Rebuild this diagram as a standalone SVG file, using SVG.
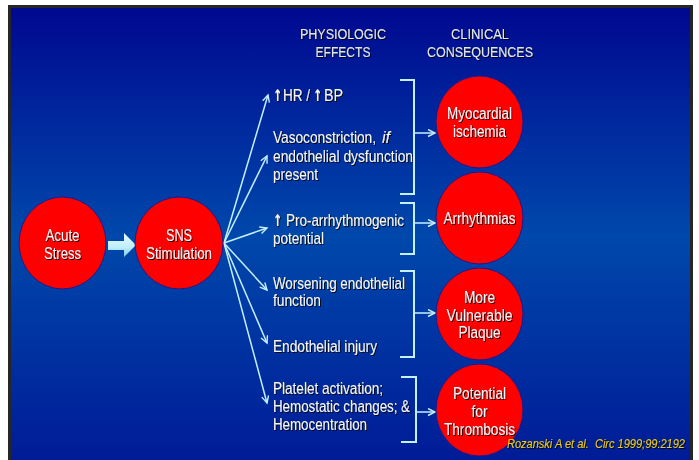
<svg xmlns="http://www.w3.org/2000/svg" width="699" height="460" viewBox="0 0 699 460">
  <defs>
    <linearGradient id="bg" x1="0" y1="0" x2="0" y2="1">
      <stop offset="0" stop-color="#000890"/>
      <stop offset="0.5" stop-color="#0048ab"/>
      <stop offset="1" stop-color="#001a96"/>
    </linearGradient>
    <linearGradient id="fat" x1="0" y1="0" x2="0" y2="1">
      <stop offset="0" stop-color="#e8fbff"/>
      <stop offset="0.6" stop-color="#bfeefc"/>
      <stop offset="1" stop-color="#7fc4dc"/>
    </linearGradient>
    <filter id="shadow" x="-10%" y="-20%" width="130%" height="150%">
      <feDropShadow dx="1" dy="1" stdDeviation="0.4" flood-color="#000" flood-opacity="0.85"/>
    </filter>
    <marker id="head" markerWidth="10" markerHeight="10" refX="8" refY="4" orient="auto" markerUnits="userSpaceOnUse">
      <path d="M1,0.5 L8,4 L1,7.5" fill="none" stroke="#c4f0ff" stroke-width="1.4"/>
    </marker>
  </defs>
  <style>
    .node ellipse { fill: #ff0000; stroke: #1b1b8c; stroke-width: 1; }
    .lbl { font-family: "Liberation Sans", Arial, sans-serif; font-size: 16px; fill: #f6f6f6; filter: url(#shadow); }
    .mid { text-anchor: middle; }
    .head { font-size: 15px; fill: #e2e8ee; }
    .up { font-family: "DejaVu Sans", sans-serif; font-weight: bold; }
    .it { font-style: italic; }
    .fan line { stroke: #c4f0ff; stroke-width: 1.5; marker-end: url(#head); }
    .brk polyline { fill: none; stroke: #c4f0ff; stroke-width: 2; }
    .brk line { stroke: #c4f0ff; stroke-width: 1.5; marker-end: url(#head); }
    .cite { font-family: "Liberation Sans", Arial, sans-serif; font-style: italic; font-size: 13px; fill: #f0cc10; filter: url(#shadow); white-space: pre; }
  </style>

  <!-- page and panel -->
  <rect width="699" height="460" fill="#ffffff"/>
  <rect x="9.5" y="6.5" width="682" height="460" fill="url(#bg)" stroke="#262626" stroke-width="3"/>

  <!-- column headings -->
  <g id="headings">
    <text class="lbl head mid" x="343" y="39" textLength="86" lengthAdjust="spacingAndGlyphs">PHYSIOLOGIC</text>
    <text class="lbl head mid" x="343" y="57" textLength="55" lengthAdjust="spacingAndGlyphs">EFFECTS</text>
    <text class="lbl head mid" x="480" y="39" textLength="58" lengthAdjust="spacingAndGlyphs">CLINICAL</text>
    <text class="lbl head mid" x="480" y="57" textLength="106" lengthAdjust="spacingAndGlyphs">CONSEQUENCES</text>
  </g>

  <!-- connectors -->
  <g id="connectors">
    <path id="fat-arrow" d="M108,241 L124,241 L124,233 L136,245 L124,257 L124,250 L108,250 Z" fill="url(#fat)"/>
    <g class="fan">
      <line x1="224" y1="243" x2="268" y2="95"/>
      <line x1="224" y1="243" x2="267" y2="156"/>
      <line x1="224" y1="243" x2="267" y2="228"/>
      <line x1="224" y1="243" x2="267" y2="290"/>
      <line x1="224" y1="243" x2="267" y2="343"/>
      <line x1="224" y1="243" x2="267" y2="403"/>
    </g>
    <g class="brk">
      <polyline points="400,80 414,80 414,194 400,194"/>
      <line x1="414" y1="133" x2="435" y2="133"/>
      <polyline points="400,203 414,203 414,254 400,254"/>
      <line x1="414" y1="223" x2="435" y2="223"/>
      <polyline points="400,271 414,271 414,357 400,357"/>
      <line x1="414" y1="313" x2="435" y2="313"/>
      <polyline points="401,377 416,377 416,442 401,442"/>
      <line x1="416" y1="412" x2="435" y2="412"/>
    </g>
  </g>

  <!-- source nodes -->
  <g id="acute-stress" class="node">
    <ellipse cx="62.5" cy="243" rx="43.5" ry="46"/>
    <text class="lbl mid" x="62.5" y="241" textLength="34" lengthAdjust="spacingAndGlyphs">Acute</text>
    <text class="lbl mid" x="62.5" y="259" textLength="37" lengthAdjust="spacingAndGlyphs">Stress</text>
  </g>
  <g id="sns-stimulation" class="node">
    <ellipse cx="179" cy="243" rx="44" ry="46"/>
    <text class="lbl mid" x="179" y="241" textLength="26" lengthAdjust="spacingAndGlyphs">SNS</text>
    <text class="lbl mid" x="179" y="259" textLength="66" lengthAdjust="spacingAndGlyphs">Stimulation</text>
  </g>

  <!-- physiologic effects -->
  <g id="effect-hr-bp">
    <text class="lbl up" x="273" y="101" textLength="9" lengthAdjust="spacingAndGlyphs">↑</text>
    <text class="lbl" x="283" y="101" textLength="27" lengthAdjust="spacingAndGlyphs">HR /</text>
    <text class="lbl up" x="313" y="101" textLength="9" lengthAdjust="spacingAndGlyphs">↑</text>
    <text class="lbl" x="324" y="101" textLength="19" lengthAdjust="spacingAndGlyphs">BP</text>
  </g>
  <g id="effect-vasoconstriction">
    <text class="lbl" x="273" y="143" textLength="103" lengthAdjust="spacingAndGlyphs">Vasoconstriction,</text>
    <text class="lbl it" x="382" y="143">if</text>
    <text class="lbl" x="273" y="162" textLength="140" lengthAdjust="spacingAndGlyphs">endothelial dysfunction</text>
    <text class="lbl" x="273" y="180" textLength="45" lengthAdjust="spacingAndGlyphs">present</text>
  </g>
  <g id="effect-arrhythmogenic">
    <text class="lbl up" x="273" y="226" textLength="9" lengthAdjust="spacingAndGlyphs">↑</text>
    <text class="lbl" x="286" y="226" textLength="118" lengthAdjust="spacingAndGlyphs">Pro-arrhythmogenic</text>
    <text class="lbl" x="273" y="244" textLength="51" lengthAdjust="spacingAndGlyphs">potential</text>
  </g>
  <g id="effect-worsening">
    <text class="lbl" x="273" y="289" textLength="132" lengthAdjust="spacingAndGlyphs">Worsening endothelial</text>
    <text class="lbl" x="273" y="306" textLength="48" lengthAdjust="spacingAndGlyphs">function</text>
  </g>
  <g id="effect-injury"><text class="lbl" x="273" y="352" textLength="104" lengthAdjust="spacingAndGlyphs">Endothelial injury</text></g>
  <g id="effect-platelet">
    <text class="lbl" x="273" y="394" textLength="110" lengthAdjust="spacingAndGlyphs">Platelet activation;</text>
    <text class="lbl" x="273" y="412" textLength="137" lengthAdjust="spacingAndGlyphs">Hemostatic changes; &amp;</text>
    <text class="lbl" x="273" y="430" textLength="94" lengthAdjust="spacingAndGlyphs">Hemocentration</text>
  </g>

  <!-- clinical consequences -->
  <g id="myocardial-ischemia" class="node">
    <ellipse cx="479.5" cy="122" rx="43.5" ry="46"/>
    <text class="lbl mid" x="479.5" y="119" textLength="65" lengthAdjust="spacingAndGlyphs">Myocardial</text>
    <text class="lbl mid" x="479.5" y="137" textLength="53" lengthAdjust="spacingAndGlyphs">ischemia</text>
  </g>
  <g id="arrhythmias" class="node">
    <ellipse cx="479.5" cy="218" rx="43.5" ry="46"/>
    <text class="lbl mid" x="479.5" y="224" textLength="72" lengthAdjust="spacingAndGlyphs">Arrhythmias</text>
  </g>
  <g id="vulnerable-plaque" class="node">
    <ellipse cx="479.5" cy="314" rx="43.5" ry="46"/>
    <text class="lbl mid" x="479.5" y="303" textLength="31" lengthAdjust="spacingAndGlyphs">More</text>
    <text class="lbl mid" x="479.5" y="321" textLength="66" lengthAdjust="spacingAndGlyphs">Vulnerable</text>
    <text class="lbl mid" x="479.5" y="338" textLength="42" lengthAdjust="spacingAndGlyphs">Plaque</text>
  </g>
  <g id="thrombosis" class="node">
    <ellipse cx="479.5" cy="410" rx="43.5" ry="46"/>
    <text class="lbl mid" x="479.5" y="399" textLength="53" lengthAdjust="spacingAndGlyphs">Potential</text>
    <text class="lbl mid" x="479.5" y="417" textLength="16" lengthAdjust="spacingAndGlyphs">for</text>
    <text class="lbl mid" x="479.5" y="435" textLength="71" lengthAdjust="spacingAndGlyphs">Thrombosis</text>
  </g>

  <!-- citation -->
  <text class="cite" x="507" y="448" textLength="178" lengthAdjust="spacingAndGlyphs">Rozanski A et al.  Circ 1999;99:2192</text>
</svg>
